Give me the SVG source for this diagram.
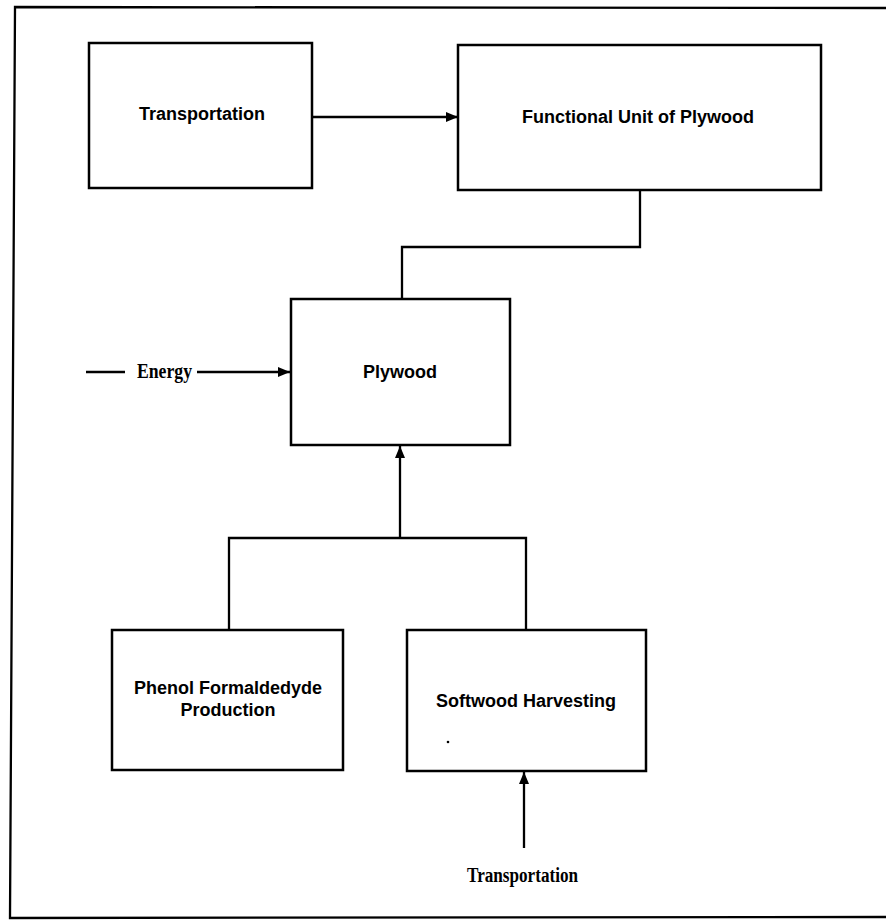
<svg xmlns="http://www.w3.org/2000/svg" width="886" height="921" viewBox="0 0 886 921">
  <style>
    .box { fill: #fff; stroke: #000; stroke-width: 2.5; }
    .wire { fill: none; stroke: #000; stroke-width: 2.3; }
    .label { font-family: "Liberation Sans", Arial, sans-serif; font-weight: bold; font-size: 18px; fill: #000; text-anchor: middle; }
    .note { font-family: "Liberation Serif", "Times New Roman", serif; font-weight: bold; font-size: 20px; fill: #000; }
  </style>
  <defs>
    <marker id="arrow" viewBox="0 0 12 10" refX="12" refY="5" markerWidth="12" markerHeight="10" markerUnits="userSpaceOnUse" orient="auto">
      <path d="M0,0 L12,5 L0,10 Z" fill="#000"/>
    </marker>
  </defs>

  <rect width="886" height="921" fill="#fff"/>

  <!-- page frame (open on the right) -->
  <path class="wire" d="M886,8 L15,7 L10,918 L886,917" stroke-width="2.8"/>

  <g id="transportation-top">
    <rect class="box" x="89" y="43" width="223" height="145"/>
    <text class="label" x="202" y="120">Transportation</text>
  </g>

  <g id="functional-unit">
    <rect class="box" x="458" y="45" width="363" height="145"/>
    <text class="label" x="638" y="123">Functional Unit of Plywood</text>
  </g>

  <g id="plywood">
    <rect class="box" x="291" y="299" width="219" height="146"/>
    <text class="label" x="400" y="378">Plywood</text>
  </g>

  <g id="phenol-formaldehyde">
    <rect class="box" x="112" y="630" width="231" height="140"/>
    <text class="label" x="228" y="694">Phenol Formaldedyde</text>
    <text class="label" x="228" y="716">Production</text>
  </g>

  <g id="softwood-harvesting">
    <rect class="box" x="407" y="630" width="239" height="141"/>
    <text class="label" x="526" y="707">Softwood Harvesting</text>
    <circle cx="448" cy="742" r="1.3" fill="#000"/>
  </g>

  <g id="energy-input">
    <line class="wire" x1="86" y1="372" x2="125" y2="372" stroke-width="1.8"/>
    <text class="note" x="137" y="378" textLength="55" lengthAdjust="spacingAndGlyphs">Energy</text>
  </g>

  <g id="transportation-input">
    <text class="note" x="467" y="882" textLength="111" lengthAdjust="spacingAndGlyphs">Transportation</text>
  </g>

  <g id="connectors">
    <line class="wire" x1="312" y1="117" x2="458" y2="117" marker-end="url(#arrow)"/>
    <polyline class="wire" points="640,190 640,247 402,247 402,299"/>
    <line class="wire" x1="197" y1="372" x2="290" y2="372" marker-end="url(#arrow)"/>
    <polyline class="wire" points="229,630 229,538 526,538 526,630"/>
    <line class="wire" x1="400" y1="538" x2="400" y2="446" marker-end="url(#arrow)"/>
    <line class="wire" x1="524" y1="848" x2="524" y2="772" marker-end="url(#arrow)"/>
  </g>
</svg>
